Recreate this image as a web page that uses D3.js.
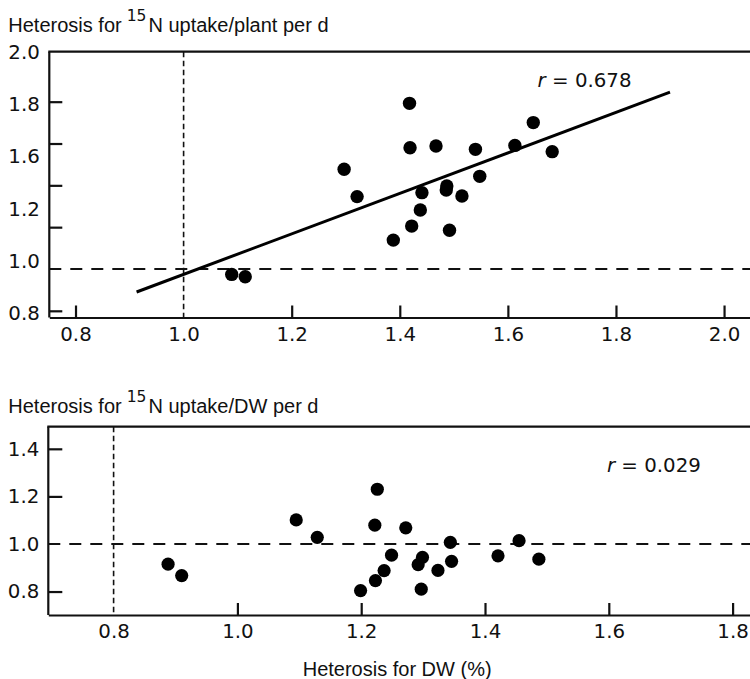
<!DOCTYPE html>
<html>
<head>
<meta charset="utf-8">
<script src="https://cdn.jsdelivr.net/npm/d3@7"></script>
<style>
  body { margin: 0; background: #fff; }
  svg { display: block; }
  .title { font-family: "Liberation Sans", Arial, sans-serif; font-size: 20px; fill: #111; }
  .sup { font-family: "DejaVu Sans", sans-serif; font-size: 15.5px; }
  .num text, text.num { font-family: "DejaVu Sans", sans-serif; font-size: 19.8px; fill: #111; }
  .axis path, .axis line { stroke: #111; stroke-width: 2.2; }
</style>
</head>
<body>
<svg id="chart" width="750" height="679"></svg>
<script>
// ---- Upper panel: heterosis for 15N uptake per plant vs heterosis for DW ----
const plantDW = [1.297, 1.321, 1.388, 1.089, 1.114, 1.418, 1.419, 1.467, 1.540, 1.613,
                 1.647, 1.682, 1.548, 1.487, 1.486, 1.441, 1.515, 1.438, 1.422, 1.492];
const plantUptake = [1.477, 1.346, 1.138, 0.974, 0.963, 1.792, 1.580, 1.588, 1.572, 1.591,
                     1.700, 1.561, 1.443, 1.397, 1.378, 1.365, 1.349, 1.282, 1.205, 1.185];
const plantFitX = [0.913, 1.900];
const plantFitY = [0.890, 1.846];
const plantR = "0.678";
const plantXTicks = [0.8, 1.0, 1.2, 1.4, 1.6, 1.8, 2.0];
const plantYTicks = [0.8, 1.0, 1.2, 1.4, 1.6, 1.8];
const plantYLabels = ["2.0", "1.8", "1.6", "1.2", "1.0", "0.8"];

// ---- Lower panel: heterosis for 15N uptake per DW vs heterosis for DW ----
const dwDW = [0.888, 0.910, 1.095, 1.129, 1.226, 1.222, 1.272, 1.344, 1.249, 1.299,
              1.292, 1.346, 1.324, 1.237, 1.223, 1.199, 1.297, 1.421, 1.455, 1.487];
const dwUptake = [0.915, 0.867, 1.101, 1.028, 1.230, 1.079, 1.068, 1.007, 0.953, 0.944,
                  0.913, 0.927, 0.889, 0.888, 0.846, 0.804, 0.810, 0.950, 1.014, 0.936];
const dwR = "0.029";
const dwXTicks = [0.8, 1.0, 1.2, 1.4, 1.6, 1.8];
const dwYTicks = [0.8, 1.0, 1.2, 1.4];

const svg = d3.select("#chart");
const fmt = d3.format(".1f");

function refLines(g, x, y, xRef, yRef, x0, x1, y0, y1) {
  g.append("line")
    .attr("x1", x(xRef)).attr("x2", x(xRef))
    .attr("y1", y0).attr("y2", y1)
    .attr("stroke", "#111").attr("stroke-width", 1.6)
    .attr("stroke-dasharray", "5.5,3.5");
  g.append("line")
    .attr("x1", x0).attr("x2", x1)
    .attr("y1", y(yRef)).attr("y2", y(yRef))
    .attr("stroke", "#111").attr("stroke-width", 1.9)
    .attr("stroke-dasharray", "12,9");
}

function title(g, x, y, before, sup, after) {
  const t = g.append("text").attr("class", "title").attr("x", x).attr("y", y);
  t.append("tspan").text(before);
  t.append("tspan").attr("class", "sup").attr("dx", 5).attr("dy", -11.5).text(sup);
  t.append("tspan").attr("dx", 2).attr("dy", 11.5).text(after);
}

// ===== Upper panel =====
{
  const L = 49.3, R = 750, T = 51.7, B = 317.5;
  const x = d3.scaleLinear().domain([0.7515, 2.048]).range([L, R]);
  const y = d3.scaleLinear().domain([0.768, 2.039]).range([B, T]);
  const g = svg.append("g");

  title(g, 8.3, 32.3, "Heterosis for", "15", "N uptake/plant per d");

  refLines(g, x, y, 1.0, 1.0, L, R, T, B);

  // axes with inward ticks
  const xa = g.append("g").attr("class", "axis num")
    .attr("transform", `translate(0,${B})`)
    .call(d3.axisBottom(x).tickValues(plantXTicks).tickFormat(fmt).tickSize(-12).tickSizeOuter(0).tickPadding(9));
  xa.selectAll(".tick").filter(d => d === 1.0).select("line").remove();

  const ya = g.append("g").attr("class", "axis num")
    .attr("transform", `translate(${L},0)`)
    .call(d3.axisLeft(y).tickValues(plantYTicks).tickFormat("").tickSize(-13).tickSizeOuter(0));
  ya.selectAll(".tick").filter(d => d === 1.0).select("line").remove();
  ya.select(".domain").attr("d", `M0,${B}V${T}`);

  // printed scale labels on the vertical axis
  const yl = d3.scalePoint().domain(plantYLabels).range([T, B - 4.2]);
  const yla = g.append("g").attr("class", "num")
    .attr("transform", `translate(${L},0)`)
    .call(d3.axisLeft(yl).tickSize(0).tickPadding(9.5));
  yla.select(".domain").remove();
  yla.selectAll("text").attr("fill", "#111");

  // top frame line
  g.append("line").attr("x1", L - 1).attr("x2", R).attr("y1", T).attr("y2", T)
    .attr("stroke", "#111").attr("stroke-width", 2.2);

  // regression line
  g.append("path")
    .datum(d3.zip(plantFitX, plantFitY))
    .attr("d", d3.line().x(d => x(d[0])).y(d => y(d[1])))
    .attr("stroke", "#000").attr("stroke-width", 3).attr("fill", "none");

  g.selectAll("circle.pt").data(d3.zip(plantDW, plantUptake)).join("circle")
    .attr("class", "pt")
    .attr("cx", d => x(d[0])).attr("cy", d => y(d[1])).attr("r", 6.7)
    .attr("fill", "#000");

  const rt = g.append("text").attr("class", "num")
    .attr("x", x(1.655)).attr("y", y(1.870));
  rt.append("tspan").attr("font-style", "italic").text("r");
  rt.append("tspan").text(" = " + plantR);
}

// ===== Lower panel =====
{
  const L = 48.3, R = 750, T = 426.7, B = 615;
  const x = d3.scaleLinear().domain([0.6945, 1.8281]).range([L, R]);
  const y = d3.scaleLinear().domain([0.7014, 1.493]).range([B, T]);
  const g = svg.append("g");

  title(g, 8.3, 413.3, "Heterosis for", "15", "N uptake/DW per d");

  refLines(g, x, y, 0.8, 1.0, L, R, T, B);

  const xa = g.append("g").attr("class", "axis num")
    .attr("transform", `translate(0,${B})`)
    .call(d3.axisBottom(x).tickValues(dwXTicks).tickFormat(fmt).tickSize(-12).tickSizeOuter(0).tickPadding(9));
  xa.selectAll(".tick").filter(d => d === 0.8).select("line").remove();

  const ya = g.append("g").attr("class", "axis num")
    .attr("transform", `translate(${L},0)`)
    .call(d3.axisLeft(y).tickValues(dwYTicks).tickFormat(fmt).tickSize(-14).tickSizeOuter(0).tickPadding(9));
  ya.selectAll(".tick").filter(d => d === 1.0).select("line").remove();
  ya.selectAll(".tick text").attr("x", -9);
  ya.select(".domain").attr("d", `M0,${B}V${T}`);

  g.append("line").attr("x1", L - 1).attr("x2", R).attr("y1", T).attr("y2", T)
    .attr("stroke", "#111").attr("stroke-width", 2.2);

  g.selectAll("circle.pt").data(d3.zip(dwDW, dwUptake)).join("circle")
    .attr("class", "pt")
    .attr("cx", d => x(d[0])).attr("cy", d => y(d[1])).attr("r", 6.6)
    .attr("fill", "#000");

  const rt = g.append("text").attr("class", "num")
    .attr("x", x(1.597)).attr("y", y(1.304));
  rt.append("tspan").attr("font-style", "italic").text("r");
  rt.append("tspan").text(" = " + dwR);

  g.append("text").attr("class", "title")
    .attr("x", (L + R) / 2 - 2).attr("y", 676)
    .attr("text-anchor", "middle")
    .text("Heterosis for DW (%)");
}
</script>
</body>
</html>
